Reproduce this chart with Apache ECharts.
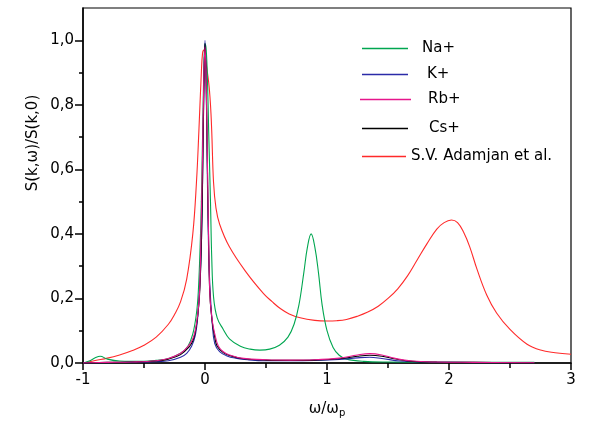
<!DOCTYPE html>
<html><head><meta charset="utf-8">
<script src="https://cdn.jsdelivr.net/npm/echarts@6/dist/echarts.min.js"></script>
<style>html,body{margin:0;padding:0;background:#fff}#c{width:591px;height:423px}</style>
</head><body><div id="c"></div>
<script>
const xTicks = [-1, 0, 1, 2, 3];
const yTicks = [0, 0.2, 0.4, 0.6, 0.8, 1.0];
const yMinorTicks = [0.1, 0.3, 0.5, 0.7, 0.9];
const seriesNames = ['Na+', 'K+', 'Rb+', 'Cs+', 'S.V. Adamjan et al.'];

const naData = [[-1,0],[-0.95,0.006],[-0.9,0.016],[-0.86,0.021],[-0.8,0.012],[-0.7,0.006],[-0.5,0.005],[-0.4,0.008],[-0.3,0.014],[-0.2,0.03],[-0.14,0.052],[-0.1,0.09],[-0.07,0.154],[-0.055,0.22],[-0.04,0.36],[-0.03,0.5],[-0.02,0.7],[-0.01,0.9],[0,0.99],[0.01,0.97],[0.02,0.88],[0.03,0.72],[0.045,0.5],[0.055,0.33],[0.07,0.205],[0.1,0.14],[0.15,0.104],[0.2,0.075],[0.29,0.052],[0.37,0.043],[0.45,0.04],[0.53,0.043],[0.61,0.055],[0.68,0.08],[0.73,0.12],[0.77,0.18],[0.81,0.28],[0.84,0.36],[0.87,0.40],[0.9,0.36],[0.93,0.28],[0.96,0.18],[1.0,0.10],[1.05,0.048],[1.1,0.024],[1.16,0.012],[1.3,0.005],[1.5,0.003],[2.0,0.002],[2.7,0.002]];

const kData = [[-1,0],[-0.8,0.001],[-0.6,0.002],[-0.4,0.004],[-0.3,0.007],[-0.2,0.018],[-0.15,0.03],[-0.11,0.052],[-0.08,0.085],[-0.06,0.14],[-0.04,0.26],[-0.03,0.36],[-0.02,0.56],[-0.01,0.85],[0,1.0],[0.01,0.85],[0.02,0.56],[0.03,0.34],[0.04,0.24],[0.06,0.12],[0.08,0.06],[0.12,0.035],[0.18,0.022],[0.25,0.015],[0.35,0.01],[0.5,0.007],[0.7,0.007],[0.9,0.008],[1.1,0.011],[1.25,0.016],[1.35,0.018],[1.45,0.014],[1.6,0.006],[1.8,0.003],[2.0,0.002],[2.4,0.001],[2.7,0.001]];

const rbData = [[-1,0],[-0.8,0.002],[-0.6,0.003],[-0.4,0.007],[-0.3,0.014],[-0.2,0.03],[-0.137,0.052],[-0.1,0.075],[-0.08,0.10],[-0.06,0.15],[-0.047,0.205],[-0.04,0.27],[-0.03,0.45],[-0.02,0.65],[-0.01,0.87],[0,0.98],[0.01,0.87],[0.02,0.62],[0.03,0.38],[0.041,0.205],[0.06,0.13],[0.08,0.09],[0.11,0.052],[0.15,0.035],[0.2,0.025],[0.3,0.015],[0.5,0.01],[0.7,0.009],[0.9,0.01],[1.1,0.015],[1.25,0.025],[1.35,0.029],[1.45,0.025],[1.55,0.015],[1.7,0.006],[1.9,0.003],[2.2,0.002],[2.7,0.001]];

const csData = [[-1,0],[-0.8,0.002],[-0.6,0.003],[-0.4,0.006],[-0.3,0.012],[-0.2,0.026],[-0.13,0.05],[-0.1,0.068],[-0.08,0.095],[-0.06,0.145],[-0.045,0.21],[-0.035,0.3],[-0.025,0.45],[-0.015,0.7],[-0.005,0.93],[0,0.99],[0.01,0.86],[0.02,0.6],[0.03,0.37],[0.04,0.21],[0.06,0.125],[0.08,0.08],[0.1,0.052],[0.15,0.032],[0.2,0.023],[0.3,0.014],[0.5,0.009],[0.7,0.008],[0.9,0.009],[1.1,0.013],[1.25,0.021],[1.35,0.024],[1.45,0.021],[1.55,0.013],[1.7,0.005],[1.9,0.003],[2.2,0.002],[2.7,0.001]];

const svData = [[-1,0],[-0.9,0.008],[-0.8,0.015],[-0.7,0.025],[-0.6,0.038],[-0.5,0.055],[-0.4,0.08],[-0.3,0.12],[-0.25,0.15],[-0.2,0.19],[-0.15,0.26],[-0.1,0.40],[-0.07,0.56],[-0.05,0.72],[-0.03,0.9],[-0.02,0.96],[-0.01,0.97],[0,0.95],[0.03,0.87],[0.045,0.80],[0.055,0.72],[0.07,0.56],[0.09,0.48],[0.12,0.43],[0.2,0.36],[0.34,0.28],[0.48,0.215],[0.55,0.19],[0.62,0.168],[0.69,0.152],[0.78,0.14],[0.9,0.132],[1.0,0.13],[1.08,0.131],[1.16,0.135],[1.25,0.145],[1.33,0.157],[1.42,0.176],[1.5,0.2],[1.58,0.23],[1.66,0.27],[1.74,0.32],[1.82,0.37],[1.9,0.415],[1.96,0.435],[2.02,0.443],[2.07,0.435],[2.12,0.405],[2.17,0.36],[2.23,0.29],[2.31,0.21],[2.39,0.155],[2.5,0.104],[2.64,0.058],[2.75,0.04],[2.87,0.032],[3.0,0.027]];

const colors = ['#00a650', '#2b2ba8', '#e6168c', '#000000', '#ff2a2a'];
const datas = [naData, kData, rbData, csData, svData];
const FONT = 'DejaVu Sans';

const chart = echarts.init(document.getElementById('c'), null, {renderer: 'canvas'});

const legendPos = [
  {top: 45, left: 357, w: 46, pad: 9},
  {top: 71, left: 357, w: 46, pad: 14},
  {top: 96, left: 355, w: 51, pad: 12},
  {top: 125, left: 357, w: 46, pad: 16},
  {top: 153, left: 357, w: 44, pad: 0}
];

const zOrder = [3, 4, 6, 5, 2];

const option = {
  animation: false,
  backgroundColor: '#fff',
  grid: {left: 83, right: 20, top: 8, bottom: 56, show: true, borderColor: '#000', borderWidth: 1.2, containLabel: false},
  legend: seriesNames.map((n, i) => ({
    data: [{name: n, icon: 'rect', itemStyle: {color: colors[i]}}], left: legendPos[i].left, top: legendPos[i].top - 9,
    itemWidth: legendPos[i].w, itemHeight: 1.5,
    textStyle: {fontFamily: FONT, fontSize: 15, color: '#000', padding: [0, 0, 0, legendPos[i].pad]},
    selectedMode: false
  })),
  xAxis: {
    type: 'value', min: -1, max: 3, interval: 1,
    name: '{a|ω/ω}{s|p}', nameLocation: 'middle', nameGap: 37,
    nameTextStyle: {rich: {a: {fontFamily: FONT, fontSize: 15, color: '#000'}, s: {fontFamily: FONT, fontSize: 10, color: '#000', verticalAlign: 'bottom', padding: [8, 0, 0, 0]}}},
    axisLine: {onZero: false, lineStyle: {color: '#000', width: 1.5}},
    axisTick: {length: 7, lineStyle: {color: '#000', width: 1.5}, customValues: xTicks},
    minorTick: {show: true, splitNumber: 2, length: 5, lineStyle: {color: '#000', width: 1.5}},
    axisLabel: {fontFamily: FONT, fontSize: 15, color: '#000', margin: 10, customValues: xTicks},
    splitLine: {show: false}
  },
  yAxis: [{
    type: 'value', min: 0, max: 1.1, interval: 0.1,
    axisLine: {onZero: false, lineStyle: {color: '#000', width: 1.5}},
    axisTick: {length: 8, lineStyle: {color: '#000', width: 1.5}, customValues: yTicks},
    minorTick: {show: false},
    axisLabel: {fontFamily: FONT, fontSize: 15, color: '#000', margin: 9, customValues: yTicks,
      formatter: v => v.toFixed(1).replace('.', ',')},
    splitLine: {show: false}
  }, {
    type: 'value', min: 0, max: 1.1, interval: 0.1, position: 'left',
    axisLine: {show: false, onZero: false},
    axisTick: {show: true, length: 4, lineStyle: {color: '#000', width: 1.5}, customValues: yMinorTicks},
    axisLabel: {show: false}, splitLine: {show: false}
  }],
  graphic: [
    {type: 'text', x: 33, y: 143, rotation: Math.PI / 2,
     style: {text: 'S(k,ω)/S(k,0)', font: '15px "DejaVu Sans"', fill: '#000', textAlign: 'center', textVerticalAlign: 'middle'}}
  ],
  series: seriesNames.map((n, i) => ({
    name: n, type: 'line', data: datas[i], showSymbol: false, symbol: 'none',
    smooth: 0.4, z: zOrder[i],
    lineStyle: {color: colors[i], width: 1.1}, itemStyle: {color: colors[i]}
  }))
};
chart.setOption(option);
</script></body></html>
